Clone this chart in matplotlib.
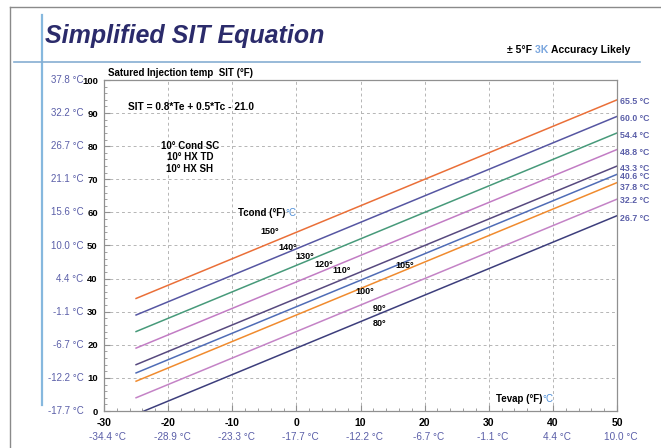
import matplotlib.pyplot as plt
from matplotlib.lines import Line2D
from matplotlib.ticker import MultipleLocator
import matplotlib.transforms as mtransforms

plt.rcParams['font.family'] = ['Liberation Sans', 'DejaVu Sans']

# Condensing temperatures (°F) and their °C labels
tcond = [150, 140, 130, 120, 110, 105, 100, 90, 80]
tcond_c = ['65.5', '60.0', '54.4', '48.8', '43.3', '40.6', '37.8', '32.2', '26.7']
colors = ['#ea6f38', '#5656a2', '#479a7a', '#c27cc4', '#57497f',
          '#4f6cb6', '#f08b2e', '#c483c6', '#3d3e7c']

# SIT values read at the line ends (Tevap = -25 and 50 °F)
tevap_ends = [-25, 50]
sit_start = [34, 29, 24, 19, 14, 11.5, 9, 4, -1]
sit_end = [94, 89, 84, 79, 74, 71.5, 69, 64, 59]

# Label positions for each Tcond line (Tevap, SIT) and the right-hand °C labels
lbl_te = [-4.1, -1.3, 1.3, 4.2, 7.0, 16.9, 10.7, 12.9, 12.9]
lbl_sit = [54.1, 49.5, 46.8, 44.4, 42.3, 44.1, 36.0, 31.1, 26.3]
right_lbl_sit = [93.6, 88.3, 83.2, 78.2, 73.4, 70.7, 67.4, 63.5, 58.2]

x_ticks = [-30, -20, -10, 0, 10, 20, 30, 40, 50]
x_ticks_c = ['-34.4', '-28.9', '-23.3', '-17.7', '-12.2', '-6.7', '-1.1', '4.4', '10.0']
y_ticks = [0, 10, 20, 30, 40, 50, 60, 70, 80, 90, 100]
y_ticks_c = ['-17.7', '-12.2', '-6.7', '-1.1', '4.4', '10.0', '15.6', '21.1', '26.7', '32.2', '37.8']

BLUE = '#5a5ea8'
W, H = 661, 448

fig = plt.figure(figsize=(W / 100, H / 100), dpi=100)
fig.patch.set_facecolor('white')

# frame, vertical accent and title rule
fig.add_artist(Line2D([10 / W, 10 / W], [0, 1 - 7 / H], color='#8a8a8a', lw=1.0))
fig.add_artist(Line2D([10 / W, 1], [1 - 7 / H, 1 - 7 / H], color='#8a8a8a', lw=1.0))
fig.add_artist(Line2D([42 / W, 42 / W], [1 - 405 / H, 1 - 15 / H], color='#86b8de', lw=1.6))
fig.add_artist(Line2D([14 / W, 640 / W], [1 - 62 / H, 1 - 62 / H], color='#86aed2', lw=1.2))

fig.text(45 / W, 1 - 36 / H, 'Simplified SIT Equation', fontsize=18, fontweight='bold',
         fontstyle='italic', color='#2b2b6b', va='center', ha='left')

# "± 5°F 3K Accuracy Likely" with the 3K in light blue
acc_parts = [('± 5°F ', 'black'), ('3K ', '#7aa6de'), ('Accuracy Likely', 'black')]
fig.canvas.draw()
xpos = 507
for txt, col in acc_parts:
    t = fig.text(xpos / W, 1 - 50 / H, txt, fontsize=7.5, fontweight='bold', color=col, va='center')
    xpos = t.get_window_extent(renderer=fig.canvas.get_renderer()).x1

ax = fig.add_axes([104 / W, 37 / H, 513 / W, 331 / H])
for i, tc in enumerate(tcond):
    ax.plot(tevap_ends, [sit_start[i], sit_end[i]], color=colors[i], lw=1.1)
    ax.text(lbl_te[i], lbl_sit[i], f'{tc}°', fontsize=6.5, fontweight='bold',
            ha='center', va='center')
    ax.text(50.5, right_lbl_sit[i], f'{tcond_c[i]} °C', fontsize=6.3, fontweight='bold',
            color=BLUE, ha='left', va='center', clip_on=False)

ax.set_xlim(-30, 50)
ax.set_ylim(0, 100)
ax.set_xticks(x_ticks)
ax.set_yticks(y_ticks)
ax.xaxis.set_minor_locator(MultipleLocator(2))
ax.yaxis.set_minor_locator(MultipleLocator(2))
ax.set_xticklabels([str(v) for v in x_ticks], fontsize=7.5, fontweight='bold')
ax.set_yticklabels([str(v) for v in y_ticks], fontsize=6.8, fontweight='bold')
ax.tick_params(which='major', direction='in', length=4, color='#909090')
ax.tick_params(axis='y', which='major', pad=4.5)
ax.tick_params(axis='x', which='major', pad=5)
ax.tick_params(which='minor', direction='in', length=2, color='#909090')
ax.grid(True, which='major', ls=(0, (3, 3)), color='#b5b5b5', lw=0.7)
for s in ax.spines.values():
    s.set_color('#909090')
    s.set_linewidth(0.9)

# °C companion labels for the axes
ytr = mtransforms.blended_transform_factory(ax.transAxes, ax.transData)
for v, c in zip(y_ticks, y_ticks_c):
    ax.text(-0.04, v, f'{c} °C', transform=ytr, fontsize=7, color=BLUE,
            ha='right', va='center', clip_on=False)
xtr = mtransforms.blended_transform_factory(ax.transData, ax.transAxes)
for v, c in zip(x_ticks, x_ticks_c):
    ax.text(v + 0.6, -0.062, f'{c} °C', transform=xtr, fontsize=7.2, color=BLUE,
            ha='center', va='top', clip_on=False)

ax.text(0.008, 1.005, 'Satured Injection temp  SIT (°F)', transform=ax.transAxes,
        fontsize=7, fontweight='bold', ha='left', va='bottom')
ax.text(-16.4, 91.8, 'SIT = 0.8*Te + 0.5*Tc - 21.0', fontsize=7.3, fontweight='bold',
        ha='center', va='center')
ax.text(-16.6, 76.7, '10° Cond SC\n10° HX TD\n10° HX SH', fontsize=7, fontweight='bold',
        ha='center', va='center', linespacing=1.2)
tc_lbl = ax.text(-9.1, 59.8, 'Tcond (°F)', fontsize=7, fontweight='bold', ha='left', va='center')
te_lbl = ax.text(31.1, 3.6, 'Tevap (°F)', fontsize=7, fontweight='bold', ha='left', va='center')
fig.canvas.draw()
inv = ax.transData.inverted()
for lbl in (tc_lbl, te_lbl):
    bb = lbl.get_window_extent()
    xd, yd = inv.transform((bb.x1, (bb.y0 + bb.y1) / 2))
    ax.text(xd, yd, '°C', fontsize=7, color='#4f8fd8', ha='left', va='center')

fig.savefig('out.png', dpi=100)
